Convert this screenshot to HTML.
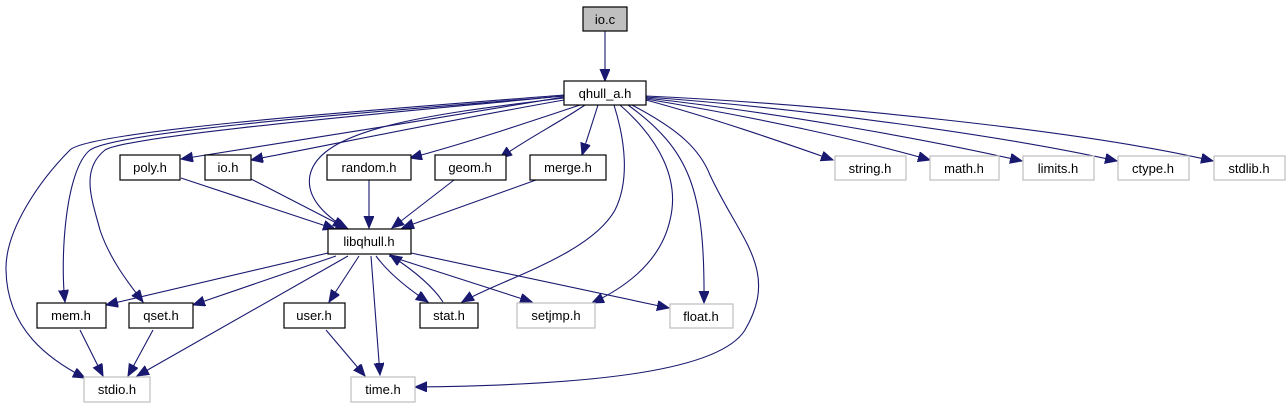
<!DOCTYPE html>
<html><head><meta charset="utf-8"><style>
html,body{margin:0;padding:0;background:#fff;}
svg{display:block;}
text{font-family:"Liberation Sans","DejaVu Sans",sans-serif;font-size:13px;text-anchor:middle;fill:#000;}
.e{fill:none;stroke:#191970;stroke-width:1.1;marker-end:url(#a);}
.n{fill:#fff;stroke:#000;stroke-width:1.2;}
.g{fill:#fff;stroke:#bfbfbf;stroke-width:1.2;}
</style></head><body>
<svg width="1286" height="411" viewBox="0 0 1286 411" xmlns="http://www.w3.org/2000/svg">
<defs><marker id="a" markerUnits="userSpaceOnUse" markerWidth="14" markerHeight="12" refX="12" refY="5" orient="auto"><path d="M0,0 L12,5 L0,10 z" fill="#191970" stroke="#191970"/></marker></defs>
<path class="e" d="M605,31 L605,81"/>
<path class="e" d="M564,97 C440,118 300,140 181,159"/>
<path class="e" d="M564,100 C450,120 340,143 251,160"/>
<path class="e" d="M580,105 C520,125 460,145 410,158"/>
<path class="e" d="M585,105 C560,122 525,140 500,158"/>
<path class="e" d="M598,105 L582,155"/>
<path class="e" d="M564,98 C420,115 320,130 310,175 C305,200 330,218 345,228"/>
<path class="e" d="M564,96 C400,110 120,130 90,150 C65,170 60,260 65,302"/>
<path class="e" d="M564,96 C400,112 130,135 105,150 C80,170 92,200 100,230 C110,260 130,285 143,302"/>
<path class="e" d="M564,95 C400,108 90,130 70,150 C40,180 5,230 6,270 C7,330 50,360 85,378"/>
<path class="e" d="M614,105 C625,140 630,180 615,210 C590,255 500,280 462,302"/>
<path class="e" d="M620,105 C660,140 680,180 670,220 C660,265 620,290 592,303"/>
<path class="e" d="M628,105 C690,150 705,190 704,303"/>
<path class="e" d="M632,105 C680,130 700,150 710,175 C740,240 780,270 745,330 C720,370 600,385 415,387"/>
<path class="e" d="M646,100 C720,120 790,145 833,160"/>
<path class="e" d="M646,99 C760,118 860,140 930,160"/>
<path class="e" d="M646,98 C780,113 930,140 1022,161"/>
<path class="e" d="M646,97 C800,108 1000,135 1117,161"/>
<path class="e" d="M646,96 C820,104 1080,130 1213,161"/>
<path class="e" d="M181,178 L335,229"/>
<path class="e" d="M251,179 L348,229"/>
<path class="e" d="M369,180 L369,228"/>
<path class="e" d="M454,180 L392,228"/>
<path class="e" d="M536,180 L402,228"/>
<path class="e" d="M328,253 L106,305"/>
<path class="e" d="M336,256 L193,305"/>
<path class="e" d="M348,256 L137,376"/>
<path class="e" d="M359,256 L329,302"/>
<path class="e" d="M371,256 L380,375"/>
<path class="e" d="M376,256 C390,275 410,290 428,302"/>
<path class="e" d="M443,302 C432,285 410,268 390,255"/>
<path class="e" d="M389,256 L532,302"/>
<path class="e" d="M411,253 L669,308"/>
<path class="e" d="M80,330 L103,376"/>
<path class="e" d="M153,330 L128,376"/>
<path class="e" d="M326,330 L365,376"/>
<rect x="583" y="7" width="44" height="24" fill="#bfbfbf" stroke="#000" stroke-width="1.2"/><text x="605" y="24">io.c</text>
<rect class="n" x="564" y="81" width="82" height="24"/><text x="605" y="98">qhull_a.h</text>
<rect class="n" x="120" y="155" width="60" height="25"/><text x="150" y="172">poly.h</text>
<rect class="n" x="205" y="155" width="46" height="25"/><text x="228" y="172">io.h</text>
<rect class="n" x="327" y="155" width="84" height="25"/><text x="369" y="172">random.h</text>
<rect class="n" x="435" y="155" width="71" height="25"/><text x="470" y="172">geom.h</text>
<rect class="n" x="530" y="155" width="76" height="25"/><text x="568" y="172">merge.h</text>
<rect class="n" x="328" y="229" width="83" height="25"/><text x="369" y="246">libqhull.h</text>
<rect class="n" x="37" y="303" width="69" height="25"/><text x="71" y="320">mem.h</text>
<rect class="n" x="129" y="303" width="64" height="25"/><text x="161" y="320">qset.h</text>
<rect class="n" x="284" y="303" width="61" height="25"/><text x="314" y="320">user.h</text>
<rect class="n" x="420" y="303" width="58" height="25"/><text x="449" y="320">stat.h</text>
<rect class="g" x="517" y="303" width="78" height="25"/><text x="556" y="320">setjmp.h</text>
<rect class="g" x="670" y="304" width="63" height="24"/><text x="701" y="321">float.h</text>
<rect class="g" x="84" y="377" width="66" height="25"/><text x="117" y="394">stdio.h</text>
<rect class="g" x="351" y="377" width="64" height="25"/><text x="383" y="394">time.h</text>
<rect class="g" x="835" y="156" width="71" height="24"/><text x="870" y="173">string.h</text>
<rect class="g" x="930" y="156" width="69" height="24"/><text x="964" y="173">math.h</text>
<rect class="g" x="1023" y="156" width="71" height="24"/><text x="1058" y="173">limits.h</text>
<rect class="g" x="1118" y="156" width="71" height="24"/><text x="1153" y="173">ctype.h</text>
<rect class="g" x="1214" y="156" width="71" height="24"/><text x="1249" y="173">stdlib.h</text>
</svg>
</body></html>
